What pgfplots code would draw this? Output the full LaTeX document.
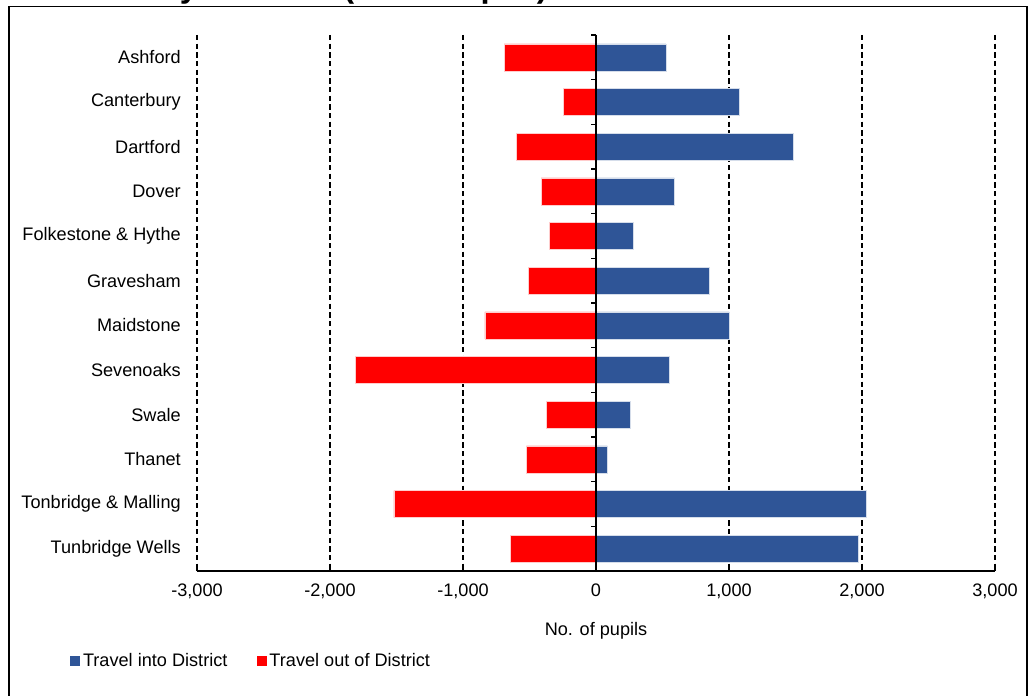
\documentclass[border=0pt]{standalone}
\usepackage{fontspec}
\setmainfont{Liberation Sans}
\usepackage{pgfplots}
\pgfplotsset{compat=1.18}

\definecolor{inblue}{RGB}{47,85,151}
\definecolor{outred}{RGB}{255,0,0}

% pupils travelling into / out of each district
\pgfplotstableread{
y  into  outof
0  525   -690
1  1075  -246
2  1481  -601
3  589   -413
4  278   -353
5  850   -511
6  1000  -835
7  549   -1810
8  261   -373
9  85    -524
10 2030  -1519
11 1975  -641
}\movetable

\newcommand{\chartfont}{\fontsize{13.6}{15}\selectfont}

\begin{document}
\begin{tikzpicture}
% 1 px of the reference = 0.75pt, axis box is px 197..995 by 35..571
\begin{axis}[
  at={(0,0)}, anchor=south west,
  scale only axis, width=598.5pt, height=402pt,
  xbar, bar width=20.25pt, bar shift=0pt,
  xmin=-3000, xmax=3000,
  ymin=-0.5, ymax=11.5, y dir=reverse,
  axis x line*=bottom, axis y line*=left,
  y axis line style={draw=none},
  x axis line style={line width=1.1pt},
  xtick={-3000,-2000,...,3000},
  xticklabels={{-3,000},{-2,000},{-1,000},0,{1,000},{2,000},{3,000}},
  tick align=inside, major tick length=4pt,
  xtick style={black, line width=0.9pt},
  ytick={0,...,11},
  yticklabels={Ashford,Canterbury,Dartford,Dover,Folkestone \& Hythe,Gravesham,
    Maidstone,Sevenoaks,Swale,Thanet,Tonbridge \& Malling,Tunbridge Wells},
  ytick style={draw=none},
  xmajorgrids,
  major grid style={black, line width=0.8pt, dash pattern=on 4pt off 2.5pt},
  tick label style={font=\chartfont},
  xticklabel style={anchor=north, inner sep=0pt, yshift=-9.5pt},
  yticklabel style={anchor=east, inner sep=0pt, xshift=-12pt},
  xlabel={No. of pupils},
  xlabel style={font=\chartfont, at={(axis description cs:0.5,-0.112)}, anchor=center},
  legend style={draw=none, fill=none, inner sep=0pt, font=\chartfont,
    at={(axis description cs:-0.159,-0.168)}, anchor=west,
    legend columns=2,
    /tikz/every even column/.append style={column sep=20pt}},
  legend image code/.code={\fill[#1,draw=none] (0pt,-4pt) rectangle (7.5pt,4pt);},
]
\addplot[fill=inblue, draw=white!80!inblue, line width=0.4pt] table[x=into, y=y] {\movetable};
\addplot[fill=outred, draw=white!80!outred, line width=0.4pt] table[x=outof, y=y] {\movetable};
\legend{Travel into District, Travel out of District}

% zero line with small ticks between the districts
\draw[black, line width=1pt] (axis cs:0,-0.5) -- (axis cs:0,11.5);
\pgfplotsinvokeforeach{-0.5,0.5,1.5,2.5,3.5,4.5,5.5,6.5,7.5,8.5,9.5,10.5}{
  \draw[black, line width=1pt] (axis cs:0,#1) -- ++(-3.75pt,0pt);
}
\end{axis}

% chart frame and the title that the crop cuts off
\draw[black, line width=1.2pt] ({(9-197)*0.75pt},{(571-6.5)*0.75pt}) rectangle ({(1027-197)*0.75pt},{(571-710)*0.75pt});
\node[anchor=base east, inner sep=0pt, font=\fontsize{24.5}{28}\selectfont\bfseries]
  at ({(548-197)*0.75pt},{(571+2.5)*0.75pt}) {Secondary Schools (Total Pupils)};

\pgfresetboundingbox
\useasboundingbox ({-197*0.75pt},{(571-695)*0.75pt}) rectangle ({(1030-197)*0.75pt},{571*0.75pt});
\end{tikzpicture}
\end{document}
